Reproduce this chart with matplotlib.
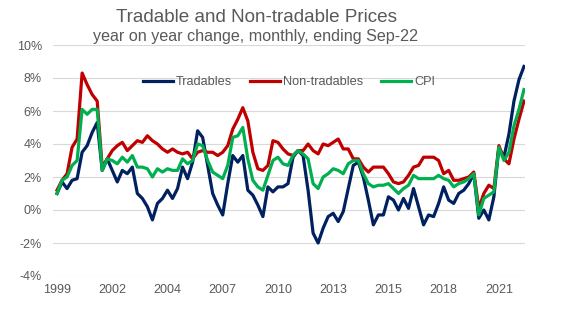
import matplotlib.pyplot as plt
import pandas as pd

plt.rcParams['font.family'] = ['Liberation Sans', 'DejaVu Sans']

# quarterly, Jun-99 to Sep-22 (annual % change)
quarters = pd.period_range("1999Q2", "2022Q3", freq="Q")

tradables = [
    1.0, 1.7, 1.3, 1.8, 1.9, 3.5, 3.9, 4.7, 5.3, 2.4,
    3.1, 2.4, 1.7, 2.4, 2.2, 2.6, 1.0, 0.7, 0.2, -0.6,
    0.4, 0.7, 1.2, 0.7, 1.3, 2.6, 1.9, 2.9, 4.8, 4.4,
    2.7, 1.0, 0.3, -0.3, 1.6, 3.3, 2.9, 3.3, 1.2, 0.9,
    0.3, -0.4, 1.4, 1.1, 1.4, 1.4, 1.6, 3.2, 3.6, 3.3,
    1.2, -1.4, -2.0, -1.1, -0.4, -0.2, -0.7, -0.1, 1.3, 2.7,
    2.9, 2.0, 0.6, -0.9, -0.3, -0.3, 0.8, 0.6, 0.0, 0.7,
    0.1, 1.3, 0.2, -0.9, -0.3, -0.4, 0.4, 1.4, 0.6, 0.4,
    1.0, 1.2, 1.6, 2.2, -0.5, 0.0, -0.6, 0.8, 3.8, 3.2,
    4.6, 6.6, 7.9, 8.7,
]

non_tradables = [
    1.2, 1.8, 2.2, 3.8, 4.3, 8.3, 7.6, 7.0, 6.6, 2.6,
    3.1, 3.6, 3.9, 4.1, 3.6, 3.9, 4.2, 4.1, 4.5, 4.2,
    4.0, 3.7, 3.5, 3.7, 3.5, 3.4, 3.5, 3.1, 3.5, 3.6,
    3.5, 3.5, 3.3, 3.5, 3.9, 4.9, 5.5, 6.2, 5.4, 3.5,
    2.5, 2.4, 2.7, 4.2, 4.1, 3.7, 3.4, 3.3, 3.6, 3.6,
    4.0, 3.6, 3.4, 4.0, 3.9, 4.1, 4.3, 3.7, 3.7, 3.1,
    3.1, 2.6, 2.3, 2.6, 2.6, 2.6, 2.2, 1.7, 1.6, 1.7,
    2.1, 2.6, 2.7, 3.2, 3.2, 3.2, 3.0, 2.2, 2.4, 1.8,
    1.8, 1.9, 2.0, 2.3, 0.1, 1.0, 1.5, 1.3, 3.9, 3.1,
    2.8, 4.3, 5.5, 6.6,
]

cpi = [
    1.0, 1.8, 2.0, 2.7, 3.0, 6.1, 5.8, 6.1, 6.1, 2.4,
    3.1, 3.0, 2.8, 3.2, 2.9, 3.3, 2.6, 2.6, 2.5, 2.0,
    2.5, 2.3, 2.5, 2.4, 2.4, 3.1, 2.8, 3.0, 4.0, 3.9,
    3.0, 2.3, 2.1, 1.9, 2.7, 4.4, 4.5, 5.0, 3.1, 1.8,
    1.4, 1.2, 2.1, 3.0, 3.2, 2.8, 2.7, 3.3, 3.6, 3.4,
    3.1, 1.6, 1.3, 2.0, 2.2, 2.5, 2.4, 2.2, 2.8, 3.0,
    3.0, 2.2, 1.6, 1.4, 1.5, 1.5, 1.6, 1.3, 1.0, 1.3,
    1.5, 2.1, 1.9, 1.9, 1.9, 1.9, 2.1, 1.9, 1.8, 1.4,
    1.6, 1.7, 1.9, 2.2, -0.3, 0.7, 0.9, 1.1, 3.8, 3.0,
    3.5, 5.1, 6.1, 7.3,
]

tick_step = 11
text_grey = "#595959"

fig = plt.figure(figsize=(5.62, 3.26), dpi=100)
ax = fig.add_axes([53 / 562, 1 - 276 / 326, 472 / 562, 231 / 326])

x = range(len(quarters))
ax.plot(x, tradables, color="#002060", lw=2.3, label="Tradables")
ax.plot(x, non_tradables, color="#C00000", lw=2.3, label="Non-tradables")
ax.plot(x, cpi, color="#00B050", lw=2.3, label="CPI")

ax.set_xlim(-0.8, len(quarters) - 1 + 0.2)
ax.set_ylim(-4, 10)
ax.set_yticks(range(-4, 11, 2))
ax.set_yticklabels([f"{v}%" for v in range(-4, 11, 2)])

ticks = list(range(0, len(quarters), tick_step))
ax.set_xticks(ticks)
ax.set_xticklabels([str(quarters[i].year) for i in ticks])

ax.grid(axis="y", color="#D9D9D9", lw=0.8)
ax.set_axisbelow(True)
for s in ax.spines.values():
    s.set_visible(False)
ax.tick_params(axis="both", length=0, labelsize=9, colors=text_grey)
ax.tick_params(axis="y", pad=8)
ax.tick_params(axis="x", pad=6)

leg = ax.legend(loc="center", bbox_to_anchor=(289 / 562, 1 - 82 / 326),
                bbox_transform=fig.transFigure, ncol=3, frameon=False,
                fontsize=9.2, handlelength=2.35, handletextpad=0.25,
                columnspacing=1.4)
for t in leg.get_texts():
    t.set_color(text_grey)

fig.text(256 / 562, 1 - 17 / 326, "Tradable and Non-tradable Prices",
         ha="center", va="center", fontsize=13.6, color=text_grey)
fig.text(256 / 562, 1 - 37 / 326, "year on year change, monthly, ending Sep-22",
         ha="center", va="center", fontsize=11.6, color=text_grey)

fig.savefig("out.png", dpi=100, facecolor="white")
